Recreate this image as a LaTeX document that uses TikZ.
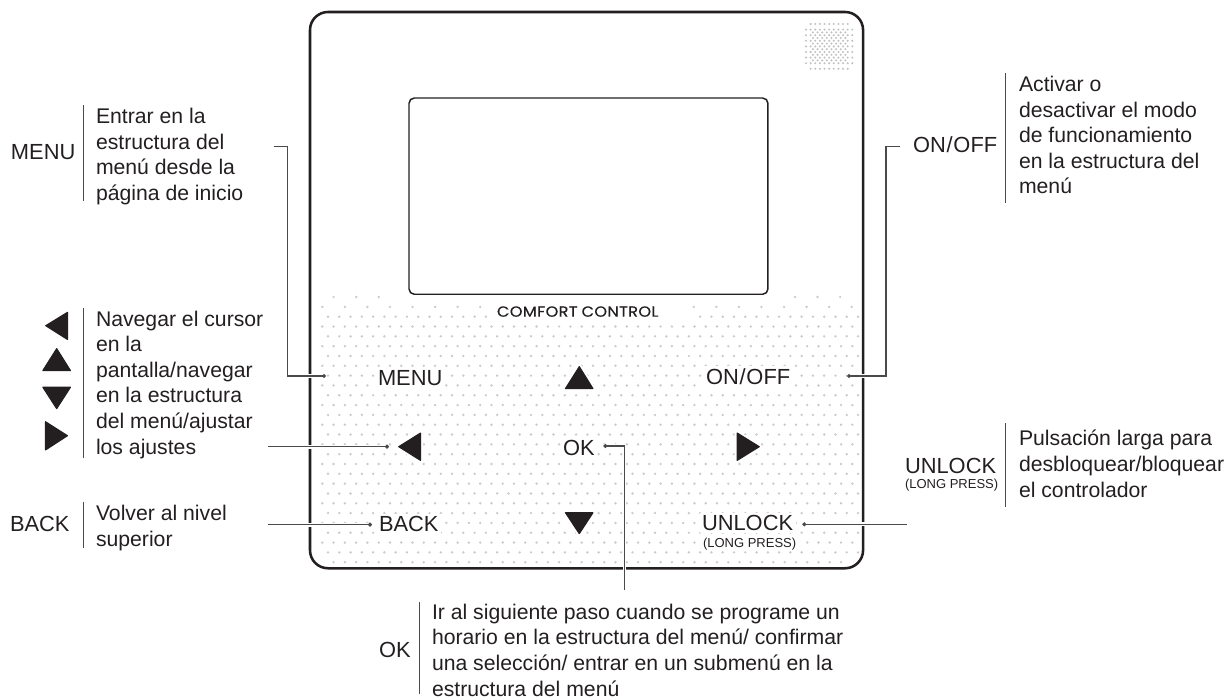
\documentclass[tikz,border=0pt]{standalone}
\usepackage{fontspec}
\setmainfont{Liberation Sans}
\newfontfamily\techfont[FakeStretch=1.1,LetterSpace=2.5,FakeBold=0.4]{Poppins}
\usetikzlibrary{arrows.meta}
\definecolor{ink}{HTML}{231F20}
\definecolor{dotgray}{HTML}{CBCBCB}
\definecolor{specgray}{HTML}{C2C2C2}
\definecolor{wire}{HTML}{4A4A4A}
\tikzset{
  x=0.75pt,y=-0.75pt,
  every node/.style={text=ink,inner sep=0pt,outer sep=0pt},
  body/.style={anchor=base west,align=left,font=\fontsize{15.9pt}{19.2pt}\selectfont},
  keyname/.style={anchor=base west,font=\fontsize{16.4pt}{19pt}\selectfont},
  smallname/.style={anchor=base west,font=\fontsize{9.75pt}{11pt}\selectfont},
  panelkey/.style={keyname,fill=white,inner sep=1.8pt},
  bar/.style={draw=wire,line width=0.75pt},
  wirepath/.style={draw=wire,line width=0.8pt,-{Circle[length=3pt,width=3pt]},preaction={draw=white,line width=2.8pt,arrows=-}},
  arrowhead/.style={fill=ink,draw=ink,line width=0.8pt,line join=round},
  halo/.style={fill=white,draw=white,line width=3pt,line join=round},
  dot/.style={fill=dotgray},
  speck/.style={fill=specgray},
}
\begin{document}
\begin{tikzpicture}
\useasboundingbox (0,0) rectangle (1226,698);
% dotted field
\fill[dot] foreach \r in {2,4,...,24}{ foreach \c in {0,...,47}{ ({328+11.277*\c},{316.7+9.82*\r}) circle[radius=1.35] } };
\fill[dot] foreach \r in {1,3,...,23}{ foreach \c in {0,...,47}{ ({322.3+11.277*\c},{316.7+9.82*\r}) circle[radius=1.35] } };
\fill[dot] foreach \c in {1,...,46}{ ({322.3+11.277*\c},{316.7+9.82*25}) circle[radius=1.35] };
\fill[dot] foreach \c in {0,...,14}{ ({328+11.277*\c},316.7) circle[radius=1.35] };
\fill[dot] foreach \c in {33,...,47}{ ({328+11.277*\c},316.7) circle[radius=1.35] };
\fill[dot] foreach \c in {0,...,7}{ ({322.3+22.56*\c},306.9) circle[radius=1.35] };
\fill[dot] foreach \c in {0,...,7}{ ({851.7-22.56*\c},306.9) circle[radius=1.35] };
\fill[dot] foreach \c in {0,1,2}{ ({333.6+22.56*\c},297) circle[radius=1.35] };
\fill[dot] foreach \c in {0,1,2}{ ({795+22.56*\c},297) circle[radius=1.35] };
% speaker grille
\fill[speck] foreach \r in {1,...,7}{ foreach \c in {0,...,10}{ ({806+4.63*\c},{24+5.6*\r}) circle[radius=1.15] } };
\fill[speck] foreach \r in {0,8}{ foreach \c in {1,...,9}{ ({806+4.63*\c},{24+5.6*\r}) circle[radius=1.15] } };
\fill[speck] foreach \r in {1,...,6}{ foreach \c in {1,...,8}{ ({808.3+4.63*\c},{26.8+5.6*\r}) circle[radius=1.15] } };
% housing and screen
\node[draw=ink,line width=1.9pt,rounded corners=13.5pt,minimum width=414.8pt,minimum height=417.2pt,anchor=north west] (panel) at (310,12) {};
\node[draw=ink,line width=1.1pt,rounded corners=4pt,minimum width=269.2pt,minimum height=147.2pt,anchor=north west] (screen) at (409,98) {};
\node[anchor=base west,font=\techfont\fontsize{11pt}{13pt}\selectfont] (brand) at (497,316.7) {COMFORT\hspace{3pt}CONTROL};
% panel key names
\node[panelkey] (kMenu) at (375.6,385) {MENU};
\node[panelkey] (kOnOff) at (703.6,384) {ON\kern0.6pt/\kern0.6pt OFF};
\node[panelkey] (kOk) at (560.6,455) {OK};
\node[panelkey] (kBack) at (376.6,531.7) {BACK};
\node[panelkey,fill=white] (kUnlock) at (699.6,530.7) {UNLOCK};
\node[smallname,fill=white,inner sep=1pt] (kLong) at (701.7,547) {(LONG PRESS)};
% panel arrow keys
\path[halo] (579.3,366) -- (593.7,389) -- (564.7,389) -- cycle;
\path[halo] (579.3,534.3) -- (593.7,512.3) -- (564.7,512.3) -- cycle;
\path[halo] (398,446.7) -- (421,432.3) -- (421,461) -- cycle;
\path[halo] (760,446.7) -- (736.7,432.3) -- (736.7,461) -- cycle;
\path[arrowhead] (579.3,366.6) -- (593,388.6) -- (565.4,388.6) -- cycle;
\path[arrowhead] (579.3,533.7) -- (593,512.7) -- (565.4,512.7) -- cycle;
\path[arrowhead] (398.7,446.7) -- (420.5,433) -- (420.5,460.4) -- cycle;
\path[arrowhead] (759.3,446.7) -- (737.2,433) -- (737.2,460.4) -- cycle;
% side arrow keys
\path[arrowhead] (45.7,325.7) -- (67.5,312.3) -- (67.5,339.5) -- cycle;
\path[arrowhead] (56.7,348.6) -- (70.5,370.6) -- (42.8,370.6) -- cycle;
\path[arrowhead] (56.7,408.7) -- (70.5,387.2) -- (42.8,387.2) -- cycle;
\path[arrowhead] (67.5,435.7) -- (45.5,421.7) -- (45.5,450) -- cycle;
% side labels
\node[keyname] (lMenu) at (11,159.3) {MENU};
\node[body] (tMenu) at (96,200.5) {Entrar en la\\estructura del\\menú desde la\\página de inicio};
\node[body] (tArrows) at (96,454) {Navegar el cursor\\en la\\pantalla/navegar\\en la estructura\\del menú/ajustar\\los ajustes};
\node[keyname] (lBack) at (10,531.7) {BACK};
\node[body] (tBack) at (96,546) {Volver al nivel\\superior};
\node[keyname] (lOnOff) at (913,153) {ON\kern0.6pt/\kern0.6pt OFF};
\node[body] (tOnOff) at (1019,194) {Activar o\\desactivar el modo\\de funcionamiento\\en la estructura del\\menú};
\node[keyname] (lUnlock) at (905,473) {UNLOCK};
\node[smallname] (lLong) at (905,488) {(LONG PRESS)};
\node[body] (tUnlock) at (1019,497) {Pulsación larga para\\desbloquear/bloquear\\el controlador};
\node[keyname] (lOk) at (379,657) {OK};
\node[body] (tOk) at (432,696) {Ir al siguiente paso cuando se programe un\\horario en la estructura del menú/ confirmar\\una selección/ entrar en un submenú en la\\estructura del menú};
% label bars
\coordinate (bMa) at (83,105); \coordinate (bMb) at (83,201);
\coordinate (bAa) at (83,308); \coordinate (bAb) at (83,458);
\coordinate (bBa) at (83,502); \coordinate (bBb) at (83,548);
\coordinate (bOa) at (1005.3,73); \coordinate (bOb) at (1005.3,203);
\coordinate (bUa) at (1005.3,423); \coordinate (bUb) at (1005.3,507);
\coordinate (bKa) at (419,602); \coordinate (bKb) at (419,694);
\draw[bar] (bMa) -- (bMb);
\draw[bar] (bAa) -- (bAb);
\draw[bar] (bBa) -- (bBb);
\draw[bar] (bOa) -- (bOb);
\draw[bar] (bUa) -- (bUb);
\draw[bar] (bKa) -- (bKb);
% connectors
\coordinate (cMs) at (273.7,146.7); \coordinate (cMe) at (326,376);
\coordinate (cOs) at (900,146.7); \coordinate (cOe) at (847,376);
\coordinate (cAs) at (267.7,446.7); \coordinate (cAe) at (389,446.7);
\coordinate (cBs) at (268,524.7); \coordinate (cBe) at (372,524.7);
\coordinate (cUs) at (906.7,524.3); \coordinate (cUe) at (802.3,524.3);
\coordinate (cKs) at (624.5,590); \coordinate (cKe) at (603.3,446);
\draw[wirepath] (cMs) -| (287.5,376) -- (cMe);
\draw[wirepath] (cOs) -| (886,376) -- (cOe);
\draw[wirepath] (cAs) -- (cAe);
\draw[wirepath] (cBs) -- (cBe);
\draw[wirepath] (cUs) -- (cUe);
\draw[wirepath] (cKs) |- (cKe);
\end{tikzpicture}
\end{document}
